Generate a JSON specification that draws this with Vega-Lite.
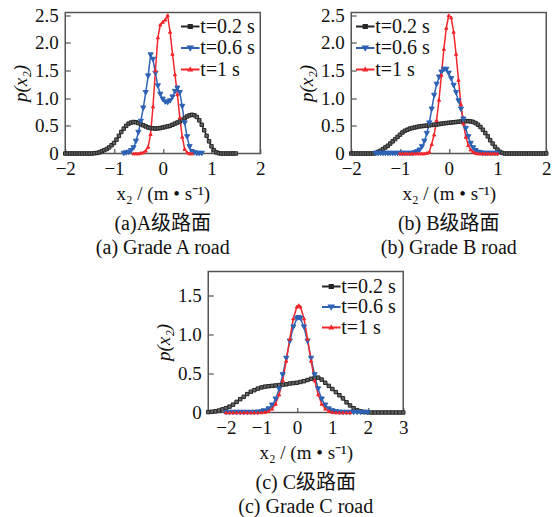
{
"$schema": "https://vega.github.io/schema/vega-lite/v6.json",
"background": "white",
"padding": {"left": 10, "top": 5.5, "right": 0, "bottom": 0},
"datasets": {
"a": [
{"s":"0.2","x":-2,"p":0},{"s":"0.2","x":-1.95,"p":0},{"s":"0.2","x":-1.9,"p":0},{"s":"0.2","x":-1.85,"p":0},{"s":"0.2","x":-1.8,"p":0},{"s":"0.2","x":-1.75,"p":0},{"s":"0.2","x":-1.7,"p":0},{"s":"0.2","x":-1.65,"p":0},{"s":"0.2","x":-1.6,"p":0},{"s":"0.2","x":-1.55,"p":0},{"s":"0.2","x":-1.5,"p":0},{"s":"0.2","x":-1.45,"p":0},{"s":"0.2","x":-1.4,"p":0.005},{"s":"0.2","x":-1.35,"p":0.01},{"s":"0.2","x":-1.3,"p":0.02},{"s":"0.2","x":-1.25,"p":0.04},{"s":"0.2","x":-1.2,"p":0.06},{"s":"0.2","x":-1.15,"p":0.08},{"s":"0.2","x":-1.1,"p":0.11},{"s":"0.2","x":-1.05,"p":0.15},{"s":"0.2","x":-1,"p":0.19},{"s":"0.2","x":-0.95,"p":0.25},{"s":"0.2","x":-0.9,"p":0.32},{"s":"0.2","x":-0.85,"p":0.39},{"s":"0.2","x":-0.8,"p":0.45},{"s":"0.2","x":-0.75,"p":0.5},{"s":"0.2","x":-0.7,"p":0.54},{"s":"0.2","x":-0.65,"p":0.56},{"s":"0.2","x":-0.6,"p":0.57},{"s":"0.2","x":-0.55,"p":0.565},{"s":"0.2","x":-0.5,"p":0.55},{"s":"0.2","x":-0.45,"p":0.53},{"s":"0.2","x":-0.4,"p":0.51},{"s":"0.2","x":-0.35,"p":0.49},{"s":"0.2","x":-0.3,"p":0.47},{"s":"0.2","x":-0.25,"p":0.46},{"s":"0.2","x":-0.2,"p":0.455},{"s":"0.2","x":-0.15,"p":0.45},{"s":"0.2","x":-0.1,"p":0.455},{"s":"0.2","x":-0.05,"p":0.46},{"s":"0.2","x":0,"p":0.47},{"s":"0.2","x":0.05,"p":0.48},{"s":"0.2","x":0.1,"p":0.49},{"s":"0.2","x":0.15,"p":0.5},{"s":"0.2","x":0.2,"p":0.52},{"s":"0.2","x":0.25,"p":0.54},{"s":"0.2","x":0.3,"p":0.56},{"s":"0.2","x":0.35,"p":0.58},{"s":"0.2","x":0.4,"p":0.61},{"s":"0.2","x":0.45,"p":0.64},{"s":"0.2","x":0.5,"p":0.67},{"s":"0.2","x":0.55,"p":0.69},{"s":"0.2","x":0.6,"p":0.7},{"s":"0.2","x":0.65,"p":0.69},{"s":"0.2","x":0.7,"p":0.66},{"s":"0.2","x":0.75,"p":0.6},{"s":"0.2","x":0.8,"p":0.52},{"s":"0.2","x":0.85,"p":0.42},{"s":"0.2","x":0.9,"p":0.32},{"s":"0.2","x":0.95,"p":0.22},{"s":"0.2","x":1,"p":0.13},{"s":"0.2","x":1.05,"p":0.06},{"s":"0.2","x":1.1,"p":0.02},{"s":"0.2","x":1.15,"p":0.005},{"s":"0.2","x":1.2,"p":0},{"s":"0.2","x":1.25,"p":0},{"s":"0.2","x":1.3,"p":0},{"s":"0.2","x":1.35,"p":0},{"s":"0.2","x":1.4,"p":0},{"s":"0.2","x":1.45,"p":0},{"s":"0.2","x":1.5,"p":0},
{"s":"0.6","x":-0.8,"p":0},{"s":"0.6","x":-0.75,"p":0.01},{"s":"0.6","x":-0.7,"p":0.02},{"s":"0.6","x":-0.65,"p":0.05},{"s":"0.6","x":-0.6,"p":0.1},{"s":"0.6","x":-0.55,"p":0.22},{"s":"0.6","x":-0.5,"p":0.38},{"s":"0.6","x":-0.45,"p":0.58},{"s":"0.6","x":-0.4,"p":0.82},{"s":"0.6","x":-0.35,"p":1.1},{"s":"0.6","x":-0.3,"p":1.4},{"s":"0.6","x":-0.25,"p":1.78},{"s":"0.6","x":-0.2,"p":1.7},{"s":"0.6","x":-0.15,"p":1.45},{"s":"0.6","x":-0.1,"p":1.22},{"s":"0.6","x":-0.05,"p":1.07},{"s":"0.6","x":0,"p":0.98},{"s":"0.6","x":0.05,"p":0.93},{"s":"0.6","x":0.1,"p":0.92},{"s":"0.6","x":0.15,"p":0.95},{"s":"0.6","x":0.2,"p":1.02},{"s":"0.6","x":0.25,"p":1.12},{"s":"0.6","x":0.3,"p":1.18},{"s":"0.6","x":0.35,"p":1.1},{"s":"0.6","x":0.4,"p":0.85},{"s":"0.6","x":0.45,"p":0.55},{"s":"0.6","x":0.5,"p":0.3},{"s":"0.6","x":0.55,"p":0.12},{"s":"0.6","x":0.6,"p":0.03},{"s":"0.6","x":0.65,"p":0.01},{"s":"0.6","x":0.7,"p":0},{"s":"0.6","x":0.75,"p":0},{"s":"0.6","x":0.8,"p":0},
{"s":"1","x":-0.6,"p":0},{"s":"1","x":-0.55,"p":0},{"s":"1","x":-0.5,"p":0},{"s":"1","x":-0.45,"p":0.01},{"s":"1","x":-0.4,"p":0.02},{"s":"1","x":-0.35,"p":0.05},{"s":"1","x":-0.3,"p":0.12},{"s":"1","x":-0.25,"p":0.35},{"s":"1","x":-0.2,"p":0.85},{"s":"1","x":-0.15,"p":1.5},{"s":"1","x":-0.1,"p":2.1},{"s":"1","x":-0.05,"p":2.33},{"s":"1","x":0,"p":2.38},{"s":"1","x":0.05,"p":2.42},{"s":"1","x":0.1,"p":2.5},{"s":"1","x":0.15,"p":2.2},{"s":"1","x":0.2,"p":1.8},{"s":"1","x":0.25,"p":1.43},{"s":"1","x":0.3,"p":1.07},{"s":"1","x":0.35,"p":0.65},{"s":"1","x":0.4,"p":0.3},{"s":"1","x":0.45,"p":0.08},{"s":"1","x":0.5,"p":0.02},{"s":"1","x":0.55,"p":0},{"s":"1","x":0.6,"p":0}
],
"b": [
{"s":"0.2","x":-2,"p":0},{"s":"0.2","x":-1.95,"p":0},{"s":"0.2","x":-1.9,"p":0},{"s":"0.2","x":-1.85,"p":0},{"s":"0.2","x":-1.8,"p":0},{"s":"0.2","x":-1.75,"p":0},{"s":"0.2","x":-1.7,"p":0},{"s":"0.2","x":-1.65,"p":0},{"s":"0.2","x":-1.6,"p":0},{"s":"0.2","x":-1.55,"p":0},{"s":"0.2","x":-1.5,"p":0.01},{"s":"0.2","x":-1.45,"p":0.03},{"s":"0.2","x":-1.4,"p":0.05},{"s":"0.2","x":-1.35,"p":0.08},{"s":"0.2","x":-1.3,"p":0.11},{"s":"0.2","x":-1.25,"p":0.14},{"s":"0.2","x":-1.2,"p":0.18},{"s":"0.2","x":-1.15,"p":0.22},{"s":"0.2","x":-1.1,"p":0.26},{"s":"0.2","x":-1.05,"p":0.3},{"s":"0.2","x":-1,"p":0.34},{"s":"0.2","x":-0.95,"p":0.38},{"s":"0.2","x":-0.9,"p":0.41},{"s":"0.2","x":-0.85,"p":0.43},{"s":"0.2","x":-0.8,"p":0.45},{"s":"0.2","x":-0.75,"p":0.46},{"s":"0.2","x":-0.7,"p":0.47},{"s":"0.2","x":-0.65,"p":0.48},{"s":"0.2","x":-0.6,"p":0.49},{"s":"0.2","x":-0.55,"p":0.495},{"s":"0.2","x":-0.5,"p":0.5},{"s":"0.2","x":-0.45,"p":0.505},{"s":"0.2","x":-0.4,"p":0.51},{"s":"0.2","x":-0.35,"p":0.515},{"s":"0.2","x":-0.3,"p":0.52},{"s":"0.2","x":-0.25,"p":0.525},{"s":"0.2","x":-0.2,"p":0.53},{"s":"0.2","x":-0.15,"p":0.54},{"s":"0.2","x":-0.1,"p":0.545},{"s":"0.2","x":-0.05,"p":0.55},{"s":"0.2","x":0,"p":0.555},{"s":"0.2","x":0.05,"p":0.56},{"s":"0.2","x":0.1,"p":0.565},{"s":"0.2","x":0.15,"p":0.57},{"s":"0.2","x":0.2,"p":0.575},{"s":"0.2","x":0.25,"p":0.58},{"s":"0.2","x":0.3,"p":0.585},{"s":"0.2","x":0.35,"p":0.585},{"s":"0.2","x":0.4,"p":0.585},{"s":"0.2","x":0.45,"p":0.58},{"s":"0.2","x":0.5,"p":0.57},{"s":"0.2","x":0.55,"p":0.55},{"s":"0.2","x":0.6,"p":0.52},{"s":"0.2","x":0.65,"p":0.48},{"s":"0.2","x":0.7,"p":0.43},{"s":"0.2","x":0.75,"p":0.37},{"s":"0.2","x":0.8,"p":0.31},{"s":"0.2","x":0.85,"p":0.24},{"s":"0.2","x":0.9,"p":0.18},{"s":"0.2","x":0.95,"p":0.12},{"s":"0.2","x":1,"p":0.07},{"s":"0.2","x":1.05,"p":0.03},{"s":"0.2","x":1.1,"p":0.01},{"s":"0.2","x":1.15,"p":0},{"s":"0.2","x":1.2,"p":0},{"s":"0.2","x":1.25,"p":0},{"s":"0.2","x":1.3,"p":0},{"s":"0.2","x":1.35,"p":0},{"s":"0.2","x":1.4,"p":0},{"s":"0.2","x":1.45,"p":0},{"s":"0.2","x":1.5,"p":0},{"s":"0.2","x":1.55,"p":0},{"s":"0.2","x":1.6,"p":0},{"s":"0.2","x":1.65,"p":0},{"s":"0.2","x":1.7,"p":0},{"s":"0.2","x":1.75,"p":0},{"s":"0.2","x":1.8,"p":0},{"s":"0.2","x":1.85,"p":0},{"s":"0.2","x":1.9,"p":0},{"s":"0.2","x":1.95,"p":0},{"s":"0.2","x":2,"p":0},
{"s":"0.6","x":-1.5,"p":0},{"s":"0.6","x":-1.45,"p":0},{"s":"0.6","x":-1.4,"p":0},{"s":"0.6","x":-1.35,"p":0},{"s":"0.6","x":-1.3,"p":0},{"s":"0.6","x":-1.25,"p":0},{"s":"0.6","x":-1.2,"p":0},{"s":"0.6","x":-1.15,"p":0},{"s":"0.6","x":-1.1,"p":0},{"s":"0.6","x":-1.05,"p":0},{"s":"0.6","x":-1,"p":0},{"s":"0.6","x":-0.95,"p":0},{"s":"0.6","x":-0.9,"p":0},{"s":"0.6","x":-0.85,"p":0},{"s":"0.6","x":-0.8,"p":0},{"s":"0.6","x":-0.75,"p":0},{"s":"0.6","x":-0.7,"p":0.01},{"s":"0.6","x":-0.65,"p":0.03},{"s":"0.6","x":-0.6,"p":0.06},{"s":"0.6","x":-0.55,"p":0.12},{"s":"0.6","x":-0.5,"p":0.22},{"s":"0.6","x":-0.45,"p":0.36},{"s":"0.6","x":-0.4,"p":0.55},{"s":"0.6","x":-0.35,"p":0.8},{"s":"0.6","x":-0.3,"p":1.05},{"s":"0.6","x":-0.25,"p":1.25},{"s":"0.6","x":-0.2,"p":1.38},{"s":"0.6","x":-0.15,"p":1.47},{"s":"0.6","x":-0.1,"p":1.52},{"s":"0.6","x":-0.05,"p":1.52},{"s":"0.6","x":0,"p":1.45},{"s":"0.6","x":0.05,"p":1.35},{"s":"0.6","x":0.1,"p":1.23},{"s":"0.6","x":0.15,"p":1.1},{"s":"0.6","x":0.2,"p":0.95},{"s":"0.6","x":0.25,"p":0.8},{"s":"0.6","x":0.3,"p":0.62},{"s":"0.6","x":0.35,"p":0.45},{"s":"0.6","x":0.4,"p":0.3},{"s":"0.6","x":0.45,"p":0.18},{"s":"0.6","x":0.5,"p":0.1},{"s":"0.6","x":0.55,"p":0.05},{"s":"0.6","x":0.6,"p":0.02},{"s":"0.6","x":0.65,"p":0.01},{"s":"0.6","x":0.7,"p":0},{"s":"0.6","x":0.75,"p":0},{"s":"0.6","x":0.8,"p":0},{"s":"0.6","x":0.85,"p":0},{"s":"0.6","x":0.9,"p":0},{"s":"0.6","x":0.95,"p":0},{"s":"0.6","x":1,"p":0},
{"s":"1","x":-1,"p":0},{"s":"1","x":-0.95,"p":0},{"s":"1","x":-0.9,"p":0},{"s":"1","x":-0.85,"p":0},{"s":"1","x":-0.8,"p":0},{"s":"1","x":-0.75,"p":0},{"s":"1","x":-0.7,"p":0},{"s":"1","x":-0.65,"p":0},{"s":"1","x":-0.6,"p":0},{"s":"1","x":-0.55,"p":0},{"s":"1","x":-0.5,"p":0},{"s":"1","x":-0.45,"p":0.01},{"s":"1","x":-0.4,"p":0.03},{"s":"1","x":-0.35,"p":0.17},{"s":"1","x":-0.3,"p":0.34},{"s":"1","x":-0.25,"p":0.6},{"s":"1","x":-0.2,"p":0.97},{"s":"1","x":-0.15,"p":1.42},{"s":"1","x":-0.1,"p":1.89},{"s":"1","x":-0.05,"p":2.27},{"s":"1","x":0,"p":2.5},{"s":"1","x":0.05,"p":2.46},{"s":"1","x":0.1,"p":2.2},{"s":"1","x":0.15,"p":1.8},{"s":"1","x":0.2,"p":1.33},{"s":"1","x":0.25,"p":0.89},{"s":"1","x":0.3,"p":0.54},{"s":"1","x":0.35,"p":0.3},{"s":"1","x":0.4,"p":0.15},{"s":"1","x":0.45,"p":0.07},{"s":"1","x":0.5,"p":0.03},{"s":"1","x":0.55,"p":0.01},{"s":"1","x":0.6,"p":0},{"s":"1","x":0.65,"p":0},{"s":"1","x":0.7,"p":0},{"s":"1","x":0.75,"p":0},{"s":"1","x":0.8,"p":0},{"s":"1","x":0.85,"p":0},{"s":"1","x":0.9,"p":0},{"s":"1","x":0.95,"p":0},{"s":"1","x":1,"p":0}
],
"c": [
{"s":"0.2","x":-2.5,"p":0.005},{"s":"0.2","x":-2.4,"p":0.01},{"s":"0.2","x":-2.3,"p":0.015},{"s":"0.2","x":-2.2,"p":0.025},{"s":"0.2","x":-2.1,"p":0.04},{"s":"0.2","x":-2,"p":0.055},{"s":"0.2","x":-1.9,"p":0.075},{"s":"0.2","x":-1.8,"p":0.1},{"s":"0.2","x":-1.7,"p":0.135},{"s":"0.2","x":-1.6,"p":0.17},{"s":"0.2","x":-1.5,"p":0.2},{"s":"0.2","x":-1.4,"p":0.235},{"s":"0.2","x":-1.3,"p":0.265},{"s":"0.2","x":-1.2,"p":0.285},{"s":"0.2","x":-1.1,"p":0.305},{"s":"0.2","x":-1,"p":0.32},{"s":"0.2","x":-0.9,"p":0.33},{"s":"0.2","x":-0.8,"p":0.335},{"s":"0.2","x":-0.7,"p":0.34},{"s":"0.2","x":-0.6,"p":0.345},{"s":"0.2","x":-0.5,"p":0.35},{"s":"0.2","x":-0.4,"p":0.355},{"s":"0.2","x":-0.3,"p":0.36},{"s":"0.2","x":-0.2,"p":0.37},{"s":"0.2","x":-0.1,"p":0.375},{"s":"0.2","x":0,"p":0.38},{"s":"0.2","x":0.1,"p":0.39},{"s":"0.2","x":0.2,"p":0.4},{"s":"0.2","x":0.3,"p":0.415},{"s":"0.2","x":0.4,"p":0.43},{"s":"0.2","x":0.5,"p":0.445},{"s":"0.2","x":0.6,"p":0.445},{"s":"0.2","x":0.7,"p":0.42},{"s":"0.2","x":0.8,"p":0.38},{"s":"0.2","x":0.9,"p":0.34},{"s":"0.2","x":1,"p":0.3},{"s":"0.2","x":1.1,"p":0.26},{"s":"0.2","x":1.2,"p":0.22},{"s":"0.2","x":1.3,"p":0.18},{"s":"0.2","x":1.4,"p":0.13},{"s":"0.2","x":1.5,"p":0.09},{"s":"0.2","x":1.6,"p":0.055},{"s":"0.2","x":1.7,"p":0.03},{"s":"0.2","x":1.8,"p":0.015},{"s":"0.2","x":1.9,"p":0.007},{"s":"0.2","x":2,"p":0.003},{"s":"0.2","x":2.1,"p":0},{"s":"0.2","x":2.2,"p":0},{"s":"0.2","x":2.3,"p":0},{"s":"0.2","x":2.4,"p":0},{"s":"0.2","x":2.5,"p":0},{"s":"0.2","x":2.6,"p":0},{"s":"0.2","x":2.7,"p":0},{"s":"0.2","x":2.8,"p":0},{"s":"0.2","x":2.9,"p":0},{"s":"0.2","x":3,"p":0},
{"s":"0.6","x":-2,"p":0},{"s":"0.6","x":-1.9,"p":0},{"s":"0.6","x":-1.8,"p":0},{"s":"0.6","x":-1.7,"p":0},{"s":"0.6","x":-1.6,"p":0},{"s":"0.6","x":-1.5,"p":0},{"s":"0.6","x":-1.4,"p":0},{"s":"0.6","x":-1.3,"p":0},{"s":"0.6","x":-1.2,"p":0},{"s":"0.6","x":-1.1,"p":0.003},{"s":"0.6","x":-1,"p":0.008},{"s":"0.6","x":-0.9,"p":0.019},{"s":"0.6","x":-0.8,"p":0.044},{"s":"0.6","x":-0.7,"p":0.092},{"s":"0.6","x":-0.6,"p":0.17},{"s":"0.6","x":-0.5,"p":0.3},{"s":"0.6","x":-0.4,"p":0.48},{"s":"0.6","x":-0.3,"p":0.69},{"s":"0.6","x":-0.2,"p":0.91},{"s":"0.6","x":-0.1,"p":1.09},{"s":"0.6","x":0,"p":1.2},{"s":"0.6","x":0.05,"p":1.21},{"s":"0.6","x":0.1,"p":1.2},{"s":"0.6","x":0.2,"p":1.09},{"s":"0.6","x":0.3,"p":0.91},{"s":"0.6","x":0.4,"p":0.69},{"s":"0.6","x":0.5,"p":0.48},{"s":"0.6","x":0.6,"p":0.3},{"s":"0.6","x":0.7,"p":0.17},{"s":"0.6","x":0.8,"p":0.092},{"s":"0.6","x":0.9,"p":0.044},{"s":"0.6","x":1,"p":0.019},{"s":"0.6","x":1.1,"p":0.008},{"s":"0.6","x":1.2,"p":0.003},{"s":"0.6","x":1.3,"p":0},{"s":"0.6","x":1.4,"p":0},{"s":"0.6","x":1.5,"p":0},{"s":"0.6","x":1.6,"p":0},{"s":"0.6","x":1.7,"p":0},{"s":"0.6","x":1.8,"p":0},{"s":"0.6","x":1.9,"p":0},{"s":"0.6","x":2,"p":0},
{"s":"1","x":-2,"p":0},{"s":"1","x":-1.9,"p":0},{"s":"1","x":-1.8,"p":0},{"s":"1","x":-1.7,"p":0},{"s":"1","x":-1.6,"p":0},{"s":"1","x":-1.5,"p":0},{"s":"1","x":-1.4,"p":0},{"s":"1","x":-1.3,"p":0},{"s":"1","x":-1.2,"p":0},{"s":"1","x":-1.1,"p":0},{"s":"1","x":-1,"p":0.002},{"s":"1","x":-0.9,"p":0.006},{"s":"1","x":-0.8,"p":0.019},{"s":"1","x":-0.7,"p":0.048},{"s":"1","x":-0.6,"p":0.11},{"s":"1","x":-0.5,"p":0.23},{"s":"1","x":-0.4,"p":0.41},{"s":"1","x":-0.3,"p":0.66},{"s":"1","x":-0.2,"p":0.94},{"s":"1","x":-0.1,"p":1.2},{"s":"1","x":0,"p":1.35},{"s":"1","x":0.05,"p":1.37},{"s":"1","x":0.1,"p":1.35},{"s":"1","x":0.2,"p":1.2},{"s":"1","x":0.3,"p":0.94},{"s":"1","x":0.4,"p":0.66},{"s":"1","x":0.5,"p":0.41},{"s":"1","x":0.6,"p":0.23},{"s":"1","x":0.7,"p":0.11},{"s":"1","x":0.8,"p":0.048},{"s":"1","x":0.9,"p":0.019},{"s":"1","x":1,"p":0.006},{"s":"1","x":1.1,"p":0},{"s":"1","x":1.2,"p":0},{"s":"1","x":1.3,"p":0},{"s":"1","x":1.4,"p":0},{"s":"1","x":1.5,"p":0}
]
},
"center": true,
"spacing": 12,
"resolve": {"scale": {"x": "independent", "y": "independent", "stroke": "independent"}, "legend": {"stroke": "independent"}},
"vconcat": [
{
"hconcat": [
{
"width": 195, "height": 141,
"data": {"name": "a"},
"title": {"text": ["(a)A级路面", "(a) Grade A road"]},
"encoding": {
  "x": {"field": "x", "type": "quantitative", "scale": {"domain": [-2, 2], "nice": false, "zero": false}, "axis": {"values": [-2, -1, 0, 1, 2], "title": "x₂ / (m • s⁻¹)", "labelOverlap": false}},
  "y": {"field": "p", "type": "quantitative", "scale": {"domain": [0, 2.55], "nice": false}, "axis": {"values": [0, 0.5, 1, 1.5, 2, 2.5], "title": "p(x₂)", "titleFontStyle": "italic", "labelOverlap": false, "labelExpr": "datum.value == 0 ? '0' : format(datum.value, '.1f')"}}
},
"layer": [
{"mark": {"type": "line", "strokeWidth": 1.5},
 "encoding": {
  "stroke": {"field": "s", "type": "nominal", "scale": {"domain": ["0.2", "0.6", "1"], "range": ["#262626", "#2d62b4", "#f3262b"]},
   "legend": {"title": null, "orient": "none", "legendX": 115, "legendY": 4, "rowPadding": 1.5,
    "labelExpr": "'t=' + datum.label + ' s'",
    "encode": {"symbols": {"update": {
      "shape": {"signal": "datum.value=='0.2'?'M-1,-0.03L1,-0.03L1,0.03L-1,0.03ZM-0.22,-0.22L0.22,-0.22L0.22,0.22L-0.22,0.22Z':datum.value=='0.6'?'M-1,-0.03L1,-0.03L1,0.03L-1,0.03ZM-0.3,-0.22L0.3,-0.22L0,0.28Z':'M-1,-0.03L1,-0.03L1,0.03L-1,0.03ZM0,-0.2L0.2,0.15L-0.2,0.15Z'"},
      "fill": {"signal": "datum.value=='0.2'?'#444444':datum.value=='0.6'?'#2d62b4':'#f3262b'"},
      "stroke": {"signal": "datum.value=='0.2'?'#262626':datum.value=='0.6'?'#2d62b4':'#f3262b'"},
      "size": {"value": 289},
      "strokeWidth": {"value": 1.5}, "opacity": {"value": 1}, "fillOpacity": {"value": 1}, "strokeOpacity": {"value": 1}}}}}}
 }},
{"transform": [{"filter": {"field": "s", "equal": "0.2"}}], "mark": {"type": "point", "shape": "square", "size": 12, "filled": true, "fill": "#666666", "stroke": "#262626", "strokeWidth": 1, "opacity": 1}},
{"transform": [{"filter": {"field": "s", "equal": "0.6"}}], "mark": {"type": "point", "shape": "triangle-down", "size": 26, "filled": true, "fill": "#2d62b4", "stroke": "#2d62b4", "strokeWidth": 1, "opacity": 1}},
{"transform": [{"filter": {"field": "s", "equal": "1"}}], "mark": {"type": "point", "shape": "triangle-up", "size": 10, "filled": true, "fill": "#f3262b", "stroke": "#f3262b", "strokeWidth": 1, "opacity": 1}}
]
},
{
"width": 195, "height": 141,
"data": {"name": "b"},
"title": {"text": ["(b) B级路面", "(b) Grade B road"]},
"encoding": {
  "x": {"field": "x", "type": "quantitative", "scale": {"domain": [-2, 2], "nice": false, "zero": false}, "axis": {"values": [-2, -1, 0, 1, 2], "title": "x₂ / (m • s⁻¹)", "labelOverlap": false}},
  "y": {"field": "p", "type": "quantitative", "scale": {"domain": [0, 2.55], "nice": false}, "axis": {"values": [0, 0.5, 1, 1.5, 2, 2.5], "title": "p(x₂)", "titleFontStyle": "italic", "labelOverlap": false, "labelExpr": "datum.value == 0 ? '0' : format(datum.value, '.1f')"}}
},
"layer": [
{"mark": {"type": "line", "strokeWidth": 1.5},
 "encoding": {
  "stroke": {"field": "s", "type": "nominal", "scale": {"domain": ["0.2", "0.6", "1"], "range": ["#262626", "#2d62b4", "#f3262b"]},
   "legend": {"title": null, "orient": "none", "legendX": 4, "legendY": 4, "rowPadding": 1.5,
    "labelExpr": "'t=' + datum.label + ' s'",
    "encode": {"symbols": {"update": {
      "shape": {"signal": "datum.value=='0.2'?'M-1,-0.03L1,-0.03L1,0.03L-1,0.03ZM-0.22,-0.22L0.22,-0.22L0.22,0.22L-0.22,0.22Z':datum.value=='0.6'?'M-1,-0.03L1,-0.03L1,0.03L-1,0.03ZM-0.3,-0.22L0.3,-0.22L0,0.28Z':'M-1,-0.03L1,-0.03L1,0.03L-1,0.03ZM0,-0.2L0.2,0.15L-0.2,0.15Z'"},
      "fill": {"signal": "datum.value=='0.2'?'#444444':datum.value=='0.6'?'#2d62b4':'#f3262b'"},
      "stroke": {"signal": "datum.value=='0.2'?'#262626':datum.value=='0.6'?'#2d62b4':'#f3262b'"},
      "size": {"value": 289},
      "strokeWidth": {"value": 1.5}, "opacity": {"value": 1}, "fillOpacity": {"value": 1}, "strokeOpacity": {"value": 1}}}}}}
 }},
{"transform": [{"filter": {"field": "s", "equal": "0.2"}}], "mark": {"type": "point", "shape": "square", "size": 12, "filled": true, "fill": "#666666", "stroke": "#262626", "strokeWidth": 1, "opacity": 1}},
{"transform": [{"filter": {"field": "s", "equal": "0.6"}}], "mark": {"type": "point", "shape": "triangle-down", "size": 26, "filled": true, "fill": "#2d62b4", "stroke": "#2d62b4", "strokeWidth": 1, "opacity": 1}},
{"transform": [{"filter": {"field": "s", "equal": "1"}}], "mark": {"type": "point", "shape": "triangle-up", "size": 10, "filled": true, "fill": "#f3262b", "stroke": "#f3262b", "strokeWidth": 1, "opacity": 1}}
]
}
],
"spacing": 91,
"bounds": "flush",
"resolve": {"scale": {"x": "independent", "y": "independent", "stroke": "independent"}, "legend": {"stroke": "independent"}}
},
{
"width": 195, "height": 141,
"data": {"name": "c"},
"title": {"text": ["(c) C级路面", "(c) Grade C road"]},
"encoding": {
  "x": {"field": "x", "type": "quantitative", "scale": {"domain": [-2.5, 3], "nice": false, "zero": false}, "axis": {"values": [-2, -1, 0, 1, 2, 3], "title": "x₂ / (m • s⁻¹)", "labelOverlap": false}},
  "y": {"field": "p", "type": "quantitative", "scale": {"domain": [0, 1.8], "nice": false}, "axis": {"values": [0, 0.5, 1, 1.5], "title": "p(x₂)", "titleFontStyle": "italic", "labelOverlap": false, "labelExpr": "datum.value == 0 ? '0' : format(datum.value, '.1f')"}}
},
"layer": [
{"mark": {"type": "line", "strokeWidth": 1.5},
 "encoding": {
  "stroke": {"field": "s", "type": "nominal", "scale": {"domain": ["0.2", "0.6", "1"], "range": ["#262626", "#2d62b4", "#f3262b"]},
   "legend": {"title": null, "orient": "none", "legendX": 113, "legendY": 5, "rowPadding": 0.5,
    "labelExpr": "'t=' + datum.label + ' s'",
    "encode": {"symbols": {"update": {
      "shape": {"signal": "datum.value=='0.2'?'M-1,-0.03L1,-0.03L1,0.03L-1,0.03ZM-0.22,-0.22L0.22,-0.22L0.22,0.22L-0.22,0.22Z':datum.value=='0.6'?'M-1,-0.03L1,-0.03L1,0.03L-1,0.03ZM-0.3,-0.22L0.3,-0.22L0,0.28Z':'M-1,-0.03L1,-0.03L1,0.03L-1,0.03ZM0,-0.2L0.2,0.15L-0.2,0.15Z'"},
      "fill": {"signal": "datum.value=='0.2'?'#444444':datum.value=='0.6'?'#2d62b4':'#f3262b'"},
      "stroke": {"signal": "datum.value=='0.2'?'#262626':datum.value=='0.6'?'#2d62b4':'#f3262b'"},
      "size": {"value": 289},
      "strokeWidth": {"value": 1.5}, "opacity": {"value": 1}, "fillOpacity": {"value": 1}, "strokeOpacity": {"value": 1}}}}}}
 }},
{"transform": [{"filter": {"field": "s", "equal": "0.2"}}], "mark": {"type": "point", "shape": "square", "size": 12, "filled": true, "fill": "#666666", "stroke": "#262626", "strokeWidth": 1, "opacity": 1}},
{"transform": [{"filter": {"field": "s", "equal": "0.6"}}], "mark": {"type": "point", "shape": "triangle-down", "size": 26, "filled": true, "fill": "#2d62b4", "stroke": "#2d62b4", "strokeWidth": 1, "opacity": 1}},
{"transform": [{"filter": {"field": "s", "equal": "1"}}], "mark": {"type": "point", "shape": "triangle-up", "size": 10, "filled": true, "fill": "#f3262b", "stroke": "#f3262b", "strokeWidth": 1, "opacity": 1}}
]
}
],
"config": {
 "font": "Liberation Serif",
 "view": {"stroke": "#555555", "strokeWidth": 1.5},
 "axis": {"grid": false, "domain": false, "labelFont": "Liberation Serif", "labelFontSize": 19, "labelColor": "#111111", "tickColor": "#555555", "tickSize": -5, "tickWidth": 1.2, "labelOverlap": false, "labelFlush": false, "titleFont": "Liberation Serif", "titleFontSize": 19, "titleFontWeight": "normal", "titleColor": "#111111", "titlePadding": 4},
 "axisX": {"labelPadding": 11, "titlePadding": 6},
 "axisY": {"labelPadding": 12},
 "legend": {"padding": 0, "labelFont": "Liberation Serif", "labelFontSize": 20, "labelColor": "#111111", "symbolSize": 289, "labelOffset": 0},
 "title": {"font": "Liberation Serif, Noto Sans CJK SC", "fontSize": 20, "fontWeight": "normal", "color": "#111111", "orient": "bottom", "anchor": "middle", "offset": 10, "lineHeight": 24}
}
}
